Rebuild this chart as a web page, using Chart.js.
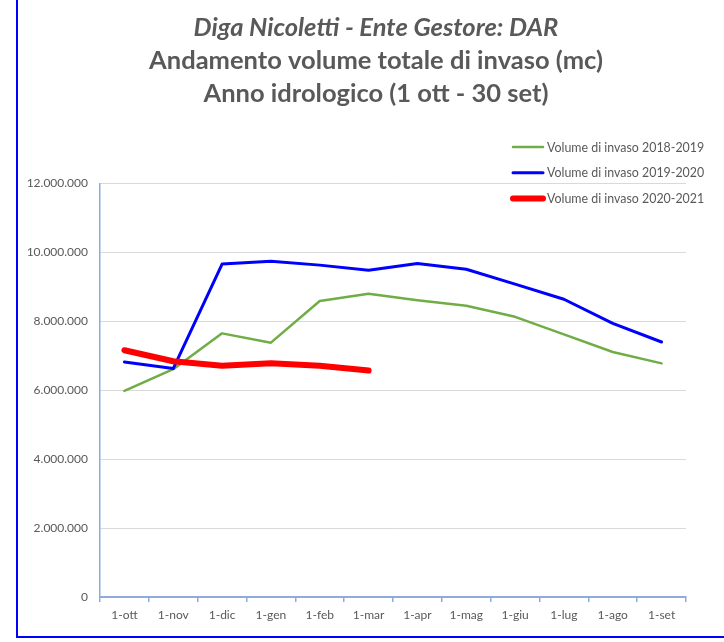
<!DOCTYPE html>
<html>
<head>
<meta charset="utf-8">
<title>Diga Nicoletti - volume di invaso</title>
<script src="https://cdn.jsdelivr.net/npm/chart.js@4/dist/chart.umd.min.js"></script>
<style>
   html, body { margin: 0; padding: 0; background: #fff; overflow: hidden; }
   #wrap { position: relative; width: 724px; height: 642px; overflow: hidden; }
   #frame {
      position: absolute; left: 16px; top: 0; width: 710px; height: 638px;
      box-sizing: border-box; border-left: 2px solid #0000ff; border-bottom: 2px solid #0000ff;
      pointer-events: none;
   }
   canvas { position: absolute; left: 0; top: 0; }
</style>
</head>
<body>
<div id="wrap">
   <!-- the chart box runs past the right edge of the crop, like the original -->
   <canvas id="myChart" width="752" height="642"></canvas>
   <div id="frame"></div>
</div>
<script>
/* ---------------------------------------------------------------------------------*/
/* Data */
/* ---------------------------------------------------------------------------------*/

const months = ['1-ott', '1-nov', '1-dic', '1-gen', '1-feb', '1-mar', '1-apr', '1-mag', '1-giu', '1-lug', '1-ago', '1-set'];

const vol2018 = [5980000, 6610000, 7650000, 7380000, 8590000, 8800000, 8610000, 8450000, 8130000, 7620000, 7110000, 6780000];
const vol2019 = [6820000, 6630000, 9660000, 9740000, 9630000, 9480000, 9680000, 9510000, 9080000, 8640000, 7940000, 7400000];
const vol2020 = [7160000, 6840000, 6710000, 6780000, 6710000, 6570000];

const seriesNames = ['Volume di invaso 2018-2019', 'Volume di invaso 2019-2020', 'Volume di invaso 2020-2021'];

const yTicks = [0, 2000000, 4000000, 6000000, 8000000, 10000000, 12000000];

/* ---------------------------------------------------------------------------------*/
/* Helpers */
/* ---------------------------------------------------------------------------------*/

// 12000000 -> "12.000.000"
const fmt = (v) => String(v).replace(/\B(?=(\d{3})+(?!\d))/g, '.');

const grey = '#595959';
const axisBlue = '#8faadc';

// Legend drawn as a vertical list in the top right corner
const cornerLegend = {
   id: 'cornerLegend',
   afterDraw(chart) {
      const ctx = chart.ctx;
      const x0 = 513, x1 = 543, top = 147, gap = 25.8;
      ctx.save();
      ctx.font = '12.4px Lato';
      ctx.textBaseline = 'middle';
      ctx.fillStyle = grey;
      chart.data.datasets.forEach((ds, i) => {
         const y = top + i * gap;
         ctx.beginPath();
         ctx.strokeStyle = ds.borderColor;
         ctx.lineWidth = ds.borderWidth;
         ctx.lineCap = 'round';
         ctx.moveTo(x0, y);
         ctx.lineTo(x1, y);
         ctx.stroke();
         ctx.fillText(ds.label, x1 + 4, y + 0.5);
      });
      ctx.restore();
   }
};

/* ---------------------------------------------------------------------------------*/
/* Chart */
/* ---------------------------------------------------------------------------------*/

Chart.defaults.font.family = 'Lato';
Chart.defaults.color = grey;

const ctx = document.querySelector('#myChart');

const data = {
   labels: months,
   datasets: [
      {
         label: seriesNames[0],
         data: vol2018,
         borderColor: '#70ad47',
         borderWidth: 2.5,
         order: 3
      },
      {
         label: seriesNames[1],
         data: vol2019,
         borderColor: '#0000ff',
         borderWidth: 3,
         order: 2
      },
      {
         label: seriesNames[2],
         data: vol2020,
         borderColor: '#ff0000',
         borderWidth: 6,
         order: 1
      }
   ]
};

const config = {
   type: 'line',
   data: data,
   options: {
      responsive: false,
      animation: false,
      layout: {
         padding: 0
      },
      elements: {
         point: { radius: 0, hoverRadius: 0 },
         line: { tension: 0, borderCapStyle: 'round', borderJoinStyle: 'round', fill: false }
      },
      scales: {
         x: {
            offset: true,
            grid: {
               offset: true,
               drawOnChartArea: false,
               drawTicks: true,
               tickLength: 5,
               color: axisBlue,
               lineWidth: 1.5
            },
            border: { color: axisBlue, width: 2 },
            ticks: { padding: 6, font: { size: 12 }, color: grey, maxRotation: 0 },
            afterFit: (s) => { s.height = 45; }
         },
         y: {
            min: 0,
            max: 12000000,
            afterBuildTicks: (s) => { s.ticks = yTicks.map(v => ({ value: v })); },
            grid: { color: '#d9d9d9', drawTicks: false },
            border: { color: axisBlue, width: 1.5 },
            ticks: {
               padding: 12,
               font: { size: 12 },
               color: grey,
               callback: (v) => fmt(v)
            },
            afterFit: (s) => { s.width = 100; }
         },
         // empty right margin, so the titles stay centred on the whole box
         spacer: {
            type: 'linear',
            position: 'right',
            grid: { display: false },
            border: { display: false },
            ticks: { display: false },
            afterFit: (s) => { s.width = 66; }
         }
      },
      plugins: {
         legend: { display: false },
         tooltip: { enabled: false },
         title: {
            display: true,
            text: 'Diga Nicoletti - Ente Gestore: DAR',
            color: grey,
            font: { size: 25.5, weight: 'bold', style: 'italic', lineHeight: 1.3 },
            padding: { top: 11, bottom: 0 }
         },
         subtitle: {
            display: true,
            text: ['Andamento volume totale di invaso (mc)', 'Anno idrologico (1 ott - 30 set)'],
            color: grey,
            font: { size: 25.5, weight: 'bold', lineHeight: 1.3 },
            padding: { top: 0, bottom: 73 }
         }
      }
   },
   plugins: [cornerLegend]
};

// Render Chart
const lineChart = new Chart(ctx, config);
</script>
</body>
</html>
